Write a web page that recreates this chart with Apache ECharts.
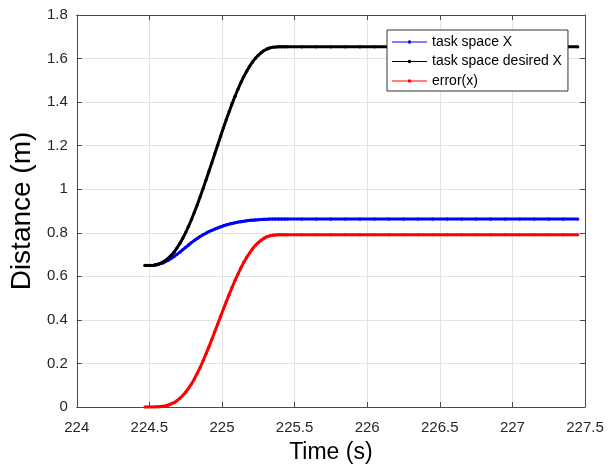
<!DOCTYPE html>
<html>
<head>
<meta charset="utf-8">
<title>Distance vs Time</title>
<script src="https://cdn.jsdelivr.net/npm/echarts@6/dist/echarts.min.js"></script>
<style>
  html, body { margin: 0; padding: 0; background: #fff; }
  #chart { width: 613px; height: 469px; }
</style>
</head>
<body>
<div id="chart"></div>
<script>
// Sample times (s): fine steps through the transition, coarser once settled
const time = [
  224.47, 224.49, 224.51, 224.53, 224.55, 224.57, 224.59, 224.61, 224.63, 224.65,
  224.67, 224.69, 224.71, 224.73, 224.75, 224.77, 224.79, 224.81, 224.83, 224.85,
  224.87, 224.89, 224.91, 224.93, 224.95, 224.97, 224.99, 225.01, 225.03, 225.05,
  225.07, 225.09, 225.11, 225.13, 225.15, 225.17, 225.19, 225.21, 225.23, 225.25,
  225.27, 225.29, 225.31, 225.33, 225.35, 225.37, 225.39, 225.41, 225.43, 225.45,
  225.55, 225.65, 225.75, 225.85, 225.95, 226.05, 226.15, 226.25, 226.35, 226.45,
  226.55, 226.65, 226.75, 226.85, 226.95, 227.05, 227.15, 227.25, 227.35, 227.45
];

// Measured task-space X (m)
const taskSpaceX = [
  0.650, 0.650, 0.650, 0.651, 0.653, 0.657, 0.661, 0.667, 0.674, 0.682,
  0.691, 0.701, 0.711, 0.722, 0.733, 0.744, 0.755, 0.765, 0.774, 0.783,
  0.791, 0.798, 0.805, 0.811, 0.817, 0.822, 0.827, 0.832, 0.836, 0.840,
  0.843, 0.846, 0.849, 0.851, 0.853, 0.855, 0.857, 0.858, 0.859, 0.860,
  0.861, 0.862, 0.862, 0.863, 0.863, 0.863, 0.863, 0.863, 0.863, 0.863,
  0.863, 0.863, 0.863, 0.863, 0.863, 0.863, 0.863, 0.863, 0.863, 0.863,
  0.863, 0.863, 0.863, 0.863, 0.863, 0.863, 0.863, 0.863, 0.863, 0.863
];

// Desired task-space X (m)
const desiredX = [
  0.650, 0.650, 0.650, 0.651, 0.654, 0.658, 0.664, 0.672, 0.683, 0.696,
  0.711, 0.730, 0.751, 0.775, 0.801, 0.830, 0.861, 0.894, 0.929, 0.965,
  1.003, 1.042, 1.081, 1.121, 1.162, 1.202, 1.242, 1.282, 1.320, 1.357,
  1.393, 1.427, 1.459, 1.489, 1.517, 1.542, 1.564, 1.584, 1.601, 1.615,
  1.627, 1.637, 1.644, 1.649, 1.652, 1.653, 1.654, 1.654, 1.654, 1.654,
  1.654, 1.654, 1.654, 1.654, 1.654, 1.654, 1.654, 1.654, 1.654, 1.654,
  1.654, 1.654, 1.654, 1.654, 1.654, 1.654, 1.654, 1.654, 1.654, 1.654
];

// Tracking error in x (m)
const errorX = [
  0.000, 0.000, 0.000, 0.000, 0.001, 0.001, 0.003, 0.005, 0.009, 0.014,
  0.020, 0.029, 0.040, 0.053, 0.068, 0.086, 0.106, 0.129, 0.155, 0.182,
  0.212, 0.244, 0.276, 0.310, 0.345, 0.380, 0.415, 0.450, 0.484, 0.517,
  0.550, 0.581, 0.610, 0.638, 0.664, 0.687, 0.707, 0.726, 0.742, 0.755,
  0.766, 0.775, 0.782, 0.786, 0.789, 0.790, 0.791, 0.791, 0.791, 0.791,
  0.791, 0.791, 0.791, 0.791, 0.791, 0.791, 0.791, 0.791, 0.791, 0.791,
  0.791, 0.791, 0.791, 0.791, 0.791, 0.791, 0.791, 0.791, 0.791, 0.791
];

const seriesNames = ['task space X', 'task space desired X', 'error(x)'];
const seriesColors = ['#0000ff', '#000000', '#ff0000'];

// Axis ticks
const xMin = 224, xMax = 227.5, xStep = 0.5;
const yMin = 0, yMax = 1.8, yStep = 0.2;
const xTickLabels = ['224', '224.5', '225', '225.5', '226', '226.5', '227', '227.5'];
const yTickLabels = ['0', '0.2', '0.4', '0.6', '0.8', '1', '1.2', '1.4', '1.6', '1.8'];

const FONT = "'Liberation Sans', Arial, Helvetica, sans-serif";
const AXIS_COLOR = '#4a4a4a';
const TEXT_COLOR = '#262626';

function pairs(values) {
  return time.map((t, i) => [t, values[i]]);
}

// Legend glyph: a short line with a dot in the middle
const legendIcon = 'path://M0,1H35V2H0Z M15.7,1.5A1.8,1.8 0 1 1 19.3,1.5A1.8,1.8 0 1 1 15.7,1.5Z';

const chart = echarts.init(document.getElementById('chart'), null, { renderer: 'canvas' });

const axisLineStyle = { color: AXIS_COLOR, width: 1 };

chart.setOption({
  animation: false,
  backgroundColor: '#ffffff',
  textStyle: { fontFamily: FONT },
  grid: { left: 71, right: 28, top: 15, bottom: 58, containLabel: false },
  legend: {
    orient: 'vertical',
    left: 387,
    top: 30,
    backgroundColor: '#ffffff',
    borderColor: '#333333',
    borderWidth: 1,
    borderRadius: 0,
    padding: [5, 6, 3, 5],
    itemGap: 5.5,
    itemWidth: 35,
    itemHeight: 4,
    itemStyle: { borderWidth: 0 },
    textStyle: { fontFamily: FONT, fontSize: 14, lineHeight: 14, color: '#000' },
    data: seriesNames.map(n => ({ name: n, icon: legendIcon })),
    z: 10
  },
  xAxis: [
    {
      type: 'value',
      min: xMin, max: xMax, interval: xStep,
      name: 'Time (s)',
      nameLocation: 'middle',
      nameGap: 34,
      nameTextStyle: { fontFamily: FONT, fontSize: 23, color: '#000' },
      axisLine: { show: true, onZero: false, lineStyle: axisLineStyle },
      axisTick: { show: true, inside: true, length: 5, lineStyle: axisLineStyle },
      axisLabel: {
        margin: 13, fontSize: 15, color: TEXT_COLOR, fontFamily: FONT,
        formatter: v => xTickLabels[Math.round((v - xMin) / xStep)]
      },
      splitLine: { show: true, lineStyle: { color: '#e2e2e2', width: 1 } }
    },
    {
      type: 'value',
      position: 'top',
      min: xMin, max: xMax, interval: xStep,
      axisLine: { show: true, onZero: false, lineStyle: axisLineStyle },
      axisTick: { show: true, inside: true, length: 5, lineStyle: axisLineStyle },
      axisLabel: { show: false },
      splitLine: { show: false }
    }
  ],
  yAxis: [
    {
      type: 'value',
      min: yMin, max: yMax, interval: yStep,
      name: 'Distance (m)',
      nameLocation: 'middle',
      nameGap: 33,
      nameTextStyle: { fontFamily: FONT, fontSize: 28, color: '#000' },
      axisLine: { show: true, onZero: false, lineStyle: axisLineStyle },
      axisTick: { show: true, inside: true, length: 5, lineStyle: axisLineStyle },
      axisLabel: {
        margin: 9, fontSize: 15, color: TEXT_COLOR, fontFamily: FONT,
        formatter: v => yTickLabels[Math.round((v - yMin) / yStep)]
      },
      splitLine: { show: true, lineStyle: { color: '#e2e2e2', width: 1 } }
    },
    {
      type: 'value',
      position: 'right',
      min: yMin, max: yMax, interval: yStep,
      axisLine: { show: true, onZero: false, lineStyle: axisLineStyle },
      axisTick: { show: true, inside: true, length: 5, lineStyle: axisLineStyle },
      axisLabel: { show: false },
      splitLine: { show: false }
    }
  ],
  series: [taskSpaceX, desiredX, errorX].map((vals, i) => ({
    name: seriesNames[i],
    type: 'line',
    xAxisIndex: 0,
    yAxisIndex: 0,
    data: pairs(vals),
    symbol: 'circle',
    symbolSize: 3.2,
    showSymbol: true,
    lineStyle: { color: seriesColors[i], width: 3 },
    itemStyle: { color: seriesColors[i], borderWidth: 0 },
    emphasis: { disabled: true },
    z: 2 + i
  }))
});
</script>
</body>
</html>
